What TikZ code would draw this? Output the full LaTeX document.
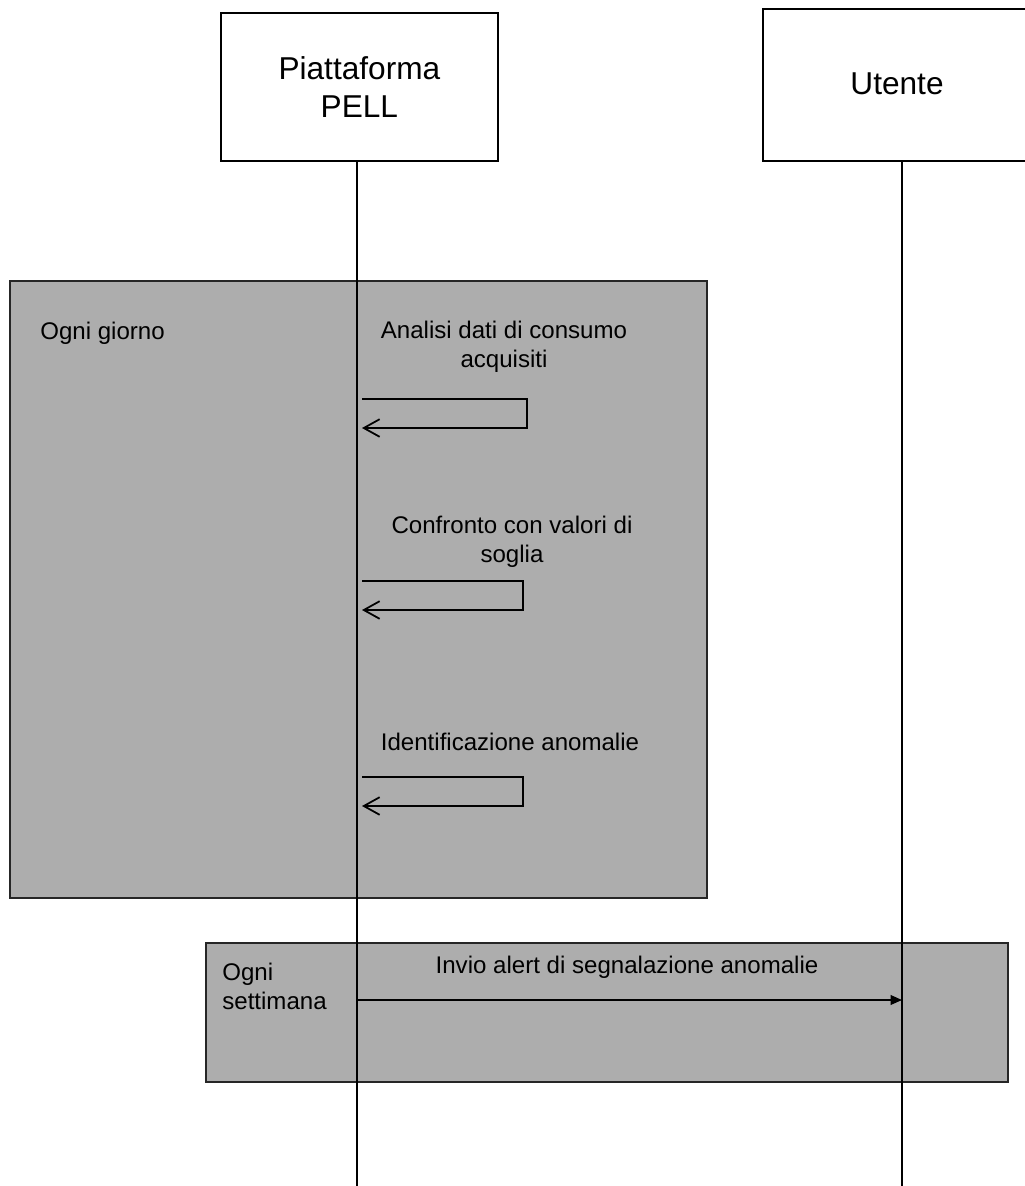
\documentclass[tikz,border=0pt]{standalone}
\usepackage{fontspec}
\setmainfont{Liberation Sans}
\usetikzlibrary{arrows.meta, positioning, calc}

\definecolor{framegray}{RGB}{173,173,173}

\begin{document}
\begin{tikzpicture}[
    x=0.02cm, y=-0.02cm,
    every node/.style={font=\fontsize{13.7}{16.4}\selectfont},
    actor/.style={
        rectangle,
        draw=black,
        line width=1pt,
        fill=white,
        align=center,
        font=\fontsize{18}{21.5}\selectfont
    },
    frame/.style={
        rectangle,
        draw=black!85,
        line width=1pt,
        fill=framegray
    },
    lifeline/.style={
        line width=1pt,
        draw=black
    },
    selfmsg/.style={
        line width=1pt,
        -{Straight Barb[length=9pt, width=10pt]}
    },
    msg/.style={
        line width=1pt,
        -{Triangle[length=6.5pt, width=5.5pt]}
    },
    label/.style={align=center, inner sep=0pt}
]
\useasboundingbox (0,0) rectangle (1024,1186);

% Loop frames
\node[frame, minimum width=697*0.02cm, minimum height=617*0.02cm, anchor=north west] (daily) at (9,280) {};
\node[frame, minimum width=802*0.02cm, minimum height=139*0.02cm, anchor=north west] (weekly) at (205,942) {};

\node[label, anchor=west] (dailylbl) at (40,333) {Ogni giorno};
\node[label, anchor=west, align=left] (weeklylbl) at (222,986) {Ogni\\settimana};

% Actors
\node[actor, minimum width=277*0.02cm, minimum height=148*0.02cm, anchor=north west] (pell) at (220,12) {Piattaforma\\PELL};
\node[actor, minimum width=290*0.02cm, minimum height=152*0.02cm, anchor=north west] (user) at (762,8) {};
\node[label, font=\fontsize{18}{21.5}\selectfont] (usertxt) at (897,84) {Utente};

% Lifelines
\coordinate (pellend) at (357,1186);
\coordinate (userend) at (902,1186);
\draw[lifeline] (pell.south -| pellend) -- (pellend);
\draw[lifeline] (user.south -| userend) -- (userend);

% Self messages
\node[label] (analisi) at (504,347) {Analisi dati di consumo\\acquisiti};
\node[label] (confronto) at (512,542) {Confronto con valori di\\soglia};
\node[label] (ident) at (510,742) {Identificazione anomalie};

\coordinate (a1) at (362,399);
\coordinate (a2) at (362,428);
\draw[selfmsg] (a1) -- ++(165,0) |- (a2);

\coordinate (c1) at (362,581);
\coordinate (c2) at (362,610);
\draw[selfmsg] (c1) -- ++(161,0) |- (c2);

\coordinate (i1) at (362,777);
\coordinate (i2) at (362,806);
\draw[selfmsg] (i1) -- ++(161,0) |- (i2);

% Weekly alert
\node[label] (invio) at (627,967) {Invio alert di segnalazione anomalie};
\coordinate (alertfrom) at (357,1000);
\coordinate (alertto) at (902,1000);
\draw[msg] (alertfrom) -- (alertto);

\end{tikzpicture}
\end{document}
